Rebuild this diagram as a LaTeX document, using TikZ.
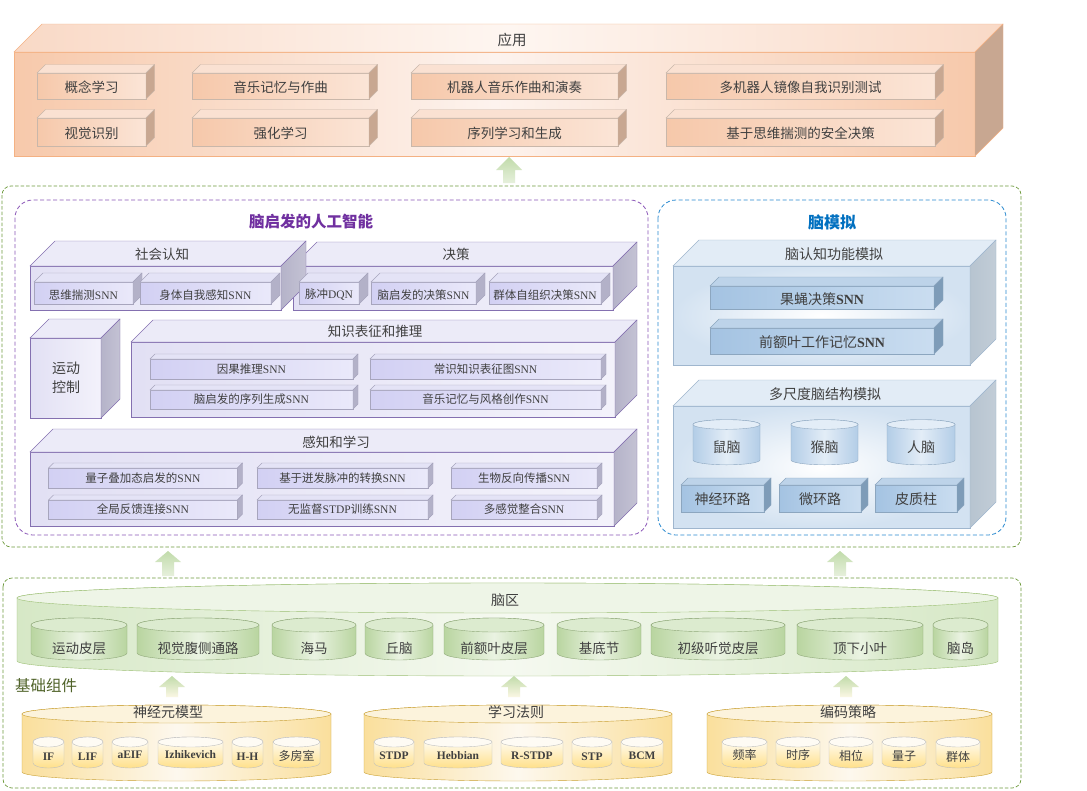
\documentclass[tikz,border=0pt]{standalone}
\usepackage{fontspec}
\setmainfont{Noto Sans CJK SC}
\newfontfamily\latf{Liberation Serif}
\newcommand\fsz[1]{\fontsize{#1}{#1}\selectfont}
\definecolor{txt}{HTML}{404040}
\definecolor{apEdge}{HTML}{F4B183}
\definecolor{apA}{HTML}{F7C9AB}
\definecolor{apB}{HTML}{FDF3EE}
\definecolor{apT}{HTML}{F9D9C6}
\definecolor{apTL}{HTML}{FEF6F1}
\definecolor{apSide}{HTML}{C8A791}
\definecolor{apSmallEdge}{HTML}{C9B7AA}
\definecolor{apS1}{HTML}{F6C8AA}
\definecolor{apS2}{HTML}{FBE5D7}
\definecolor{apTop}{HTML}{FAE1D2}
\definecolor{grDash}{HTML}{6E9A3C}
\definecolor{puDash}{HTML}{8A56B8}
\definecolor{puTitle}{HTML}{7030A0}
\definecolor{blDash}{HTML}{2A8AD0}
\definecolor{blTitle}{HTML}{0070C0}
\definecolor{puEdge}{HTML}{8470B0}
\definecolor{puF1}{HTML}{E2E0F4}
\definecolor{puF2}{HTML}{F3F2FB}
\definecolor{puTop}{HTML}{ECEBF8}
\definecolor{puSide}{HTML}{B5B3C9}
\definecolor{puS1}{HTML}{D2D0F3}
\definecolor{puS2}{HTML}{EAE9FA}
\definecolor{puSTop}{HTML}{E4E3F6}
\definecolor{puSSide}{HTML}{B3B1C8}
\definecolor{puSEdge}{HTML}{A7A5BD}
\definecolor{blEdge}{HTML}{9FB6CE}
\definecolor{blF}{HTML}{D3E2F1}
\definecolor{blTop}{HTML}{E2ECF6}
\definecolor{blSide}{HTML}{B7C4D0}
\definecolor{blS1}{HTML}{A4C3E2}
\definecolor{blS2}{HTML}{CADDF0}
\definecolor{blSTop}{HTML}{BDD3E9}
\definecolor{blSSide}{HTML}{7E9CB8}
\definecolor{blSEdge}{HTML}{8CA6BF}
\definecolor{blC}{HTML}{B3CDE7}
\definecolor{blCL}{HTML}{E3EDF7}
\definecolor{gnEdge}{HTML}{9CBF74}
\definecolor{gnF}{HTML}{D6E8C6}
\definecolor{gnL}{HTML}{F5F9F0}
\definecolor{gnTop}{HTML}{EEF5E7}
\definecolor{gnS}{HTML}{B9D5A0}
\definecolor{gnSL}{HTML}{EAF3E2}
\definecolor{gnSTop}{HTML}{DCEBCF}
\definecolor{gnSEdge}{HTML}{8FA879}
\definecolor{yeEdge}{HTML}{C9A032}
\definecolor{yeF}{HTML}{FADF9C}
\definecolor{yeL}{HTML}{FDF8EE}
\definecolor{yeTop}{HTML}{FCF3DC}
\definecolor{yeS}{HTML}{FFE08A}
\definecolor{grTitle}{HTML}{4F6228}
\definecolor{arG}{HTML}{C1DBAA}
\definecolor{arL}{HTML}{E6F0DC}
\definecolor{arY}{HTML}{FBF7E4}
\newcommand\boxd[9]{%
  \path[#6,draw=#9] (#1,#2) rectangle (#3,#4);
  \path[#7,draw=#9] (#1,#2) -- ({#1+#5},{#2-#5}) -- ({#3+#5},{#2-#5}) -- (#3,#2) -- cycle;
  \path[#8,draw=#9] (#3,#2) -- ({#3+#5},{#2-#5}) -- ({#3+#5},{#4-#5}) -- (#3,#4) -- cycle;
}
\newcommand\cyl[7]{%
  \pgfmathsetmacro\crx{(#2-#1)/2}%
  \pgfmathsetmacro\ccx{(#1+#2)/2}%
  \path[#6] (#1,#3) -- (#1,#4) arc[start angle=180,end angle=360,x radius=\crx pt,y radius=#5pt] -- (#2,#3) arc[start angle=0,end angle=180,x radius=\crx pt,y radius=#5pt] -- cycle;
  \path[#7] (\ccx,#3) ellipse[x radius=\crx pt,y radius=#5pt];
}
\newcommand\uparr[5]{%
  \path[#5] (#1,#2) -- ({#1+13},#3) -- ({#1+6},#3) -- ({#1+6},#4) -- ({#1-6},#4) -- ({#1-6},#3) -- ({#1-13},#3) -- cycle;
}
\tikzset{
  lblA/.style={text=txt,inner sep=0pt,font=\fsz{13.5}},
  lblB/.style={text=txt,inner sep=0pt,font=\fsz{11.5}},
  lblC/.style={text=txt,inner sep=0pt,font=\fsz{14}},
  lblD/.style={text=txt,inner sep=0pt,font=\fsz{12}},
  lblE/.style={text=txt,inner sep=0pt,font=\fsz{11.5}\latf\bfseries},
  gdash/.style={draw=grDash,line width=0.7pt,dash pattern=on 3.5pt off 2pt,rounded corners=9pt},
  pdash/.style={draw=puDash,line width=0.8pt,dash pattern=on 4pt off 2.5pt,rounded corners=18pt},
  bdash/.style={draw=blDash,line width=0.8pt,dash pattern=on 4pt off 2.5pt,rounded corners=18pt},
  arrG/.style={top color=arG,bottom color=arL},
  arrY/.style={top color=arG,bottom color=arY},
  pbigF/.style={left color=puF1,right color=puF2},
  pbigT/.style={fill=puTop},
  pbigS/.style={left color=puSide,right color=puSide!80!white},
  psmF/.style={left color=puS1,right color=puS2},
  psmT/.style={fill=puSTop},
  psmS/.style={fill=puSSide},
  abigF/.style={left color=apA,right color=apA,middle color=apB},
  abigT/.style={left color=apT,right color=apT,middle color=apTL},
  asmF/.style={left color=apS1,right color=apS2},
  asmT/.style={fill=apTop},
  aS/.style={fill=apSide},
  bbigF/.style={inner color=white,outer color=blF},
  bbigT/.style={fill=blTop},
  bbigS/.style={left color=blSide,right color=blSide!85!white},
  bsmF/.style={left color=blS1,right color=blS2},
  bsmT/.style={fill=blSTop},
  bsmS/.style={fill=blSSide},
}
\begin{document}
\begin{tikzpicture}[x=1pt,y=-1pt]
\useasboundingbox (0,0) rectangle (1087,790);
\fill[white] (0,0) rectangle (1087,790);

% ---------- application layer ----------
\boxd{14}{52}{975}{156}{28}{abigF}{abigT}{aS}{apEdge}
\node[lblA,font=\fsz{14.5}] (yy) at (512,40) {应用};
\foreach \ya/\yb in {73/99,118/146}{
  \boxd{37}{\ya}{146}{\yb}{8.5}{asmF}{asmT}{aS}{apSmallEdge}
  \boxd{192}{\ya}{369}{\yb}{8.5}{asmF}{asmT}{aS}{apSmallEdge}
  \boxd{411}{\ya}{618}{\yb}{8.5}{asmF}{asmT}{aS}{apSmallEdge}
  \boxd{666}{\ya}{935}{\yb}{8.5}{asmF}{asmT}{aS}{apSmallEdge}
}
\node[lblA] (a1) at (91.5,87) {概念学习};
\node[lblA] (a2) at (280.5,87) {音乐记忆与作曲};
\node[lblA] (a3) at (514.5,87) {机器人音乐作曲和演奏};
\node[lblA] (a4) at (800.5,87) {多机器人镜像自我识别测试};
\node[lblA] (a5) at (91.5,133) {视觉识别};
\node[lblA] (a6) at (280.5,133) {强化学习};
\node[lblA] (a7) at (514.5,133) {序列学习和生成};
\node[lblA] (a8) at (800.5,133) {基于思维揣测的安全决策};

\uparr{509}{157}{170}{183}{arrG}

% ---------- middle layer ----------
\draw[gdash] (2,186) rectangle (1021,547);
\draw[pdash] (15,200) rectangle (648,535);
\draw[bdash] (658,200) rectangle (1006,535);
\node[inner sep=0pt,font=\fsz{15.5}\bfseries,text=puTitle] (tpu) at (311,222) {脑启发的人工智能};
\node[inner sep=0pt,font=\fsz{16}\bfseries,text=blTitle] (tbl) at (832,222) {脑模拟};

% decision and social cognition
\boxd{293}{266}{613}{310}{24}{pbigF}{pbigT}{pbigS}{puEdge}
\boxd{30}{266}{281}{310}{25}{pbigF}{pbigT}{pbigS}{puEdge}
\node[lblA] (sh) at (162,254) {社会认知};
\node[lblA] (jc) at (456,254) {决策};
\boxd{34}{282}{133}{304}{9}{psmF}{psmT}{psmS}{puSEdge}
\boxd{140}{282}{271}{304}{9}{psmF}{psmT}{psmS}{puSEdge}
\boxd{299}{282}{359}{304}{9}{psmF}{psmT}{psmS}{puSEdge}
\boxd{371}{282}{476}{304}{9}{psmF}{psmT}{psmS}{puSEdge}
\boxd{489}{282}{601}{304}{9}{psmF}{psmT}{psmS}{puSEdge}
\node[lblB] (s1) at (83.5,295) {思维揣测{\latf SNN}};
\node[lblB] (s2) at (205.5,295) {身体自我感知{\latf SNN}};
\node[lblB] (d1) at (329,295) {脉冲{\latf DQN}};
\node[lblB] (d2) at (423.5,295) {脑启发的决策{\latf SNN}};
\node[lblB] (d3) at (545,295) {群体自组织决策{\latf SNN}};

% motion control
\boxd{30}{338}{101}{418}{19}{pbigF}{pbigT}{pbigS}{puEdge}
\node[lblC,align=center,font=\fsz{14}\linespread{1.2}\selectfont] (yd) at (66,378) {运动\\[2pt]控制};

% knowledge
\boxd{131}{342}{615}{417}{22}{pbigF}{pbigT}{pbigS}{puEdge}
\node[lblA] (zs) at (375,331) {知识表征和推理};
\foreach \ya/\yb in {359/379,390/409}{
  \boxd{150}{\ya}{353}{\yb}{5}{psmF}{psmT}{psmS}{puSEdge}
  \boxd{370}{\ya}{601}{\yb}{5}{psmF}{psmT}{psmS}{puSEdge}
}
\node[lblB] (k1) at (251.5,369) {因果推理{\latf SNN}};
\node[lblB] (k2) at (485.5,369) {常识知识表征图{\latf SNN}};
\node[lblB] (k3) at (251.5,399.5) {脑启发的序列生成{\latf SNN}};
\node[lblB] (k4) at (485.5,399.5) {音乐记忆与风格创作{\latf SNN}};

% perception
\boxd{30}{452}{614}{526}{23}{pbigF}{pbigT}{pbigS}{puEdge}
\node[lblA] (gz) at (336,442) {感知和学习};
\foreach \ya/\yb in {468/488,500/519}{
  \boxd{48.5}{\ya}{237.5}{\yb}{5}{psmF}{psmT}{psmS}{puSEdge}
  \boxd{257}{\ya}{428}{\yb}{5}{psmF}{psmT}{psmS}{puSEdge}
  \boxd{451}{\ya}{597}{\yb}{5}{psmF}{psmT}{psmS}{puSEdge}
}
\node[lblB] (p1) at (143,478) {量子叠加态启发的{\latf SNN}};
\node[lblB] (p2) at (342.5,478) {基于迸发脉冲的转换{\latf SNN}};
\node[lblB] (p3) at (524,478) {生物反向传播{\latf SNN}};
\node[lblB] (p4) at (143,509.5) {全局反馈连接{\latf SNN}};
\node[lblB] (p5) at (342.5,509.5) {无监督{\latf STDP}训练{\latf SNN}};
\node[lblB] (p6) at (524,509.5) {多感觉整合{\latf SNN}};

% brain simulation
\boxd{673}{266}{970}{365}{26}{bbigF}{bbigT}{bbigS}{blEdge}
\node[lblC] (rz) at (834,254) {脑认知功能模拟};
\boxd{710}{286}{934}{309}{9}{bsmF}{bsmT}{bsmS}{blSEdge}
\boxd{710}{328}{934}{354}{9}{bsmF}{bsmT}{bsmS}{blSEdge}
\node[lblC] (b1) at (822,299) {果蝇决策{\latf\bfseries SNN}};
\node[lblC] (b2) at (822,342) {前额叶工作记忆{\latf\bfseries SNN}};
\boxd{673}{406}{970}{528}{26}{bbigF}{bbigT}{bbigS}{blEdge}
\node[lblC] (dc) at (825,394) {多尺度脑结构模拟};
\foreach \xa/\xb in {693/760,791/858,887/955}{
  \cyl{\xa}{\xb}{424.5}{460}{4.8}{left color=blC,right color=blC,middle color=blCL,draw=blSEdge}{fill=blCL,draw=blSEdge}
}
\node[lblC] (c1) at (726.5,447) {鼠脑};
\node[lblC] (c2) at (824.5,447) {猴脑};
\node[lblC] (c3) at (921,447) {人脑};
\boxd{681}{485}{764}{512}{7}{bsmF}{bsmT}{bsmS}{blSEdge}
\boxd{779}{485}{861}{512}{7}{bsmF}{bsmT}{bsmS}{blSEdge}
\boxd{875}{485}{957}{512}{7}{bsmF}{bsmT}{bsmS}{blSEdge}
\node[lblC] (e1) at (722.5,499) {神经环路};
\node[lblC] (e2) at (820,499) {微环路};
\node[lblC] (e3) at (916,499) {皮质柱};

\uparr{168}{551}{562}{576}{arrG}
\uparr{840}{551}{562}{576}{arrG}

% ---------- base layer ----------
\draw[gdash] (3,578) rectangle (1021,788);
\cyl{17}{998}{598}{661}{15}{left color=gnF,right color=gnF,middle color=gnL,draw=gnEdge}{fill=gnTop,draw=gnEdge}
\node[lblC] (nq) at (505,600) {脑区};
\foreach \xa/\xb in {31/127,137/259,272/356,365/433,444/544,557/641,651/785,797/923,933/988}{
  \cyl{\xa}{\xb}{625}{653}{7}{left color=gnS,right color=gnS,middle color=gnSL,draw=gnSEdge}{fill=gnSTop,draw=gnSEdge}
}
\node[lblA] (g1) at (79,648) {运动皮层};
\node[lblA] (g2) at (198,648) {视觉腹侧通路};
\node[lblA] (g3) at (314,648) {海马};
\node[lblA] (g4) at (399,648) {丘脑};
\node[lblA] (g5) at (494,648) {前额叶皮层};
\node[lblA] (g6) at (599,648) {基底节};
\node[lblA] (g7) at (718,648) {初级听觉皮层};
\node[lblA] (g8) at (860,648) {顶下小叶};
\node[lblA] (g9) at (960.5,648) {脑岛};
\node[inner sep=0pt,font=\fsz{15.5},text=grTitle] (jc2) at (46,686) {基础组件};

\uparr{172}{676}{687}{697}{arrY}
\uparr{514}{676}{687}{697}{arrY}
\uparr{846}{676}{687}{697}{arrY}

\cyl{22}{331}{714}{772}{9}{left color=yeF,right color=yeF,middle color=yeL,draw=yeEdge}{fill=yeTop,draw=yeEdge}
\cyl{364}{672}{714}{772}{9}{left color=yeF,right color=yeF,middle color=yeL,draw=yeEdge}{fill=yeTop,draw=yeEdge}
\cyl{707}{992}{714}{772}{9}{left color=yeF,right color=yeF,middle color=yeL,draw=yeEdge}{fill=yeTop,draw=yeEdge}
\node[lblC] (m1) at (168,712) {神经元模型};
\node[lblC] (m2) at (516,712) {学习法则};
\node[lblC] (m3) at (848,712) {编码策略};
\foreach \xa/\xb in {33/64,72/103,112/148,158/223,232/263,273/320,374/414,424/492,501/563,572/612,621/663,722/767,776/820,829/873,882/926,936/980}{
  \cyl{\xa}{\xb}{742}{763}{5}{top color=white,bottom color=yeS,draw=black!25}{fill=white!70!yeTop,draw=black!25}
}
\node[lblE] (n1) at (48.5,757) {IF};
\node[lblE] (n2) at (87.5,757) {LIF};
\node[lblE] (n3) at (130,755) {aEIF};
\node[lblE] (n4) at (190.5,755) {Izhikevich};
\node[lblE] (n5) at (247.5,757) {H-H};
\node[lblD] (n6) at (296.5,756) {多房室};
\node[lblE] (l1) at (394,756) {STDP};
\node[lblE] (l2) at (458,756) {Hebbian};
\node[lblE] (l3) at (532,756) {R-STDP};
\node[lblE] (l4) at (592,757) {STP};
\node[lblE] (l5) at (642,756) {BCM};
\node[lblD] (c11) at (744.5,755) {频率};
\node[lblD] (c12) at (798,755) {时序};
\node[lblD] (c13) at (851,756) {相位};
\node[lblD] (c14) at (904,756) {量子};
\node[lblD] (c15) at (958,757) {群体};
\end{tikzpicture}
\end{document}
